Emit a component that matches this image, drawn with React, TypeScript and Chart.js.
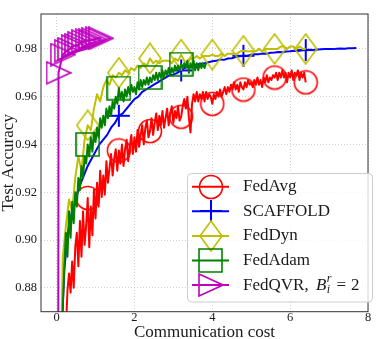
import React, { useEffect, useRef } from 'react';
import { Chart, registerables } from 'chart.js';

Chart.register(...registerables);

// ---------------- data (test accuracy per round; cost = round * cost step) ----------------
const fedAvgStep = 0.04;
const fedAvgAcc = [
  0.100, 0.400, 0.600, 0.720, 0.790, 0.835, 0.862, 0.879, 0.886, 0.878,
  0.891, 0.880, 0.897, 0.903, 0.889, 0.908, 0.893, 0.912, 0.898, 0.906,
  0.9176, 0.897, 0.914, 0.902, 0.921, 0.909, 0.924, 0.914, 0.929, 0.918,
  0.927, 0.919, 0.933, 0.924, 0.930, 0.936, 0.927, 0.934, 0.938, 0.929,
  0.9375, 0.932, 0.940, 0.931, 0.938, 0.942, 0.933, 0.939, 0.944, 0.936,
  0.943, 0.937, 0.946, 0.939, 0.944, 0.948, 0.940, 0.947, 0.950, 0.943,
  0.9456, 0.951, 0.944, 0.949, 0.953, 0.946, 0.952, 0.948, 0.954, 0.947,
  0.951, 0.955, 0.948, 0.953, 0.956, 0.949, 0.954, 0.951, 0.956, 0.950,
  0.9516, 0.956, 0.959, 0.955, 0.960, 0.951, 0.945, 0.957, 0.961, 0.958,
  0.962, 0.958, 0.961, 0.959, 0.962, 0.958, 0.962, 0.959, 0.961, 0.960,
  0.957, 0.961, 0.959, 0.962, 0.960, 0.963, 0.960, 0.962, 0.964, 0.961,
  0.964, 0.962, 0.965, 0.963, 0.966, 0.963, 0.965, 0.962, 0.966, 0.964,
  0.963, 0.966, 0.964, 0.967, 0.965, 0.966, 0.964, 0.967, 0.965, 0.968,
  0.965, 0.967, 0.964, 0.968, 0.966, 0.969, 0.966, 0.968, 0.967, 0.969,
  0.968, 0.970, 0.967, 0.970, 0.968, 0.971, 0.968, 0.970, 0.966, 0.970,
  0.968, 0.971, 0.967, 0.970, 0.969, 0.971, 0.967, 0.970, 0.968, 0.970,
  0.966,
];

const scaffoldStep = 0.1;
const scaffoldAcc = [
  0.100, 0.850, 0.888, 0.904, 0.912, 0.918, 0.923, 0.927, 0.931, 0.934,
  0.937, 0.940, 0.942, 0.944, 0.947, 0.949, 0.952, 0.953, 0.955, 0.957,
  0.959, 0.960, 0.962, 0.963, 0.964, 0.965, 0.966, 0.967, 0.968, 0.969,
  0.9692, 0.9700, 0.9710, 0.9722, 0.9726, 0.9730, 0.9735, 0.9738, 0.9740, 0.9744,
  0.9748, 0.9750, 0.9756, 0.9754, 0.9760, 0.9761, 0.9766, 0.9769, 0.9771, 0.9770,
  0.9776, 0.9778, 0.9778, 0.9781, 0.9780, 0.9784, 0.9785, 0.9787, 0.9786, 0.9789,
  0.9790, 0.9792, 0.9791, 0.9794, 0.9795, 0.9796, 0.9795, 0.9797, 0.9798, 0.9799,
  0.9800, 0.9799, 0.9801, 0.9802, 0.9801, 0.9803, 0.9803, 0.9804,
];

const fedDynStep = 0.08;
const fedDynAcc = [
  0.100, 0.820, 0.893, 0.906, 0.917, 0.912, 0.926, 0.935, 0.929, 0.942,
  0.948, 0.946, 0.955, 0.961, 0.958, 0.964, 0.967, 0.965, 0.969, 0.968,
  0.970, 0.969, 0.971, 0.970, 0.972, 0.971, 0.973, 0.972, 0.974, 0.973,
  0.976, 0.974, 0.975, 0.974, 0.975, 0.975, 0.975, 0.974, 0.976, 0.975,
  0.9776, 0.975, 0.974, 0.976, 0.976, 0.977, 0.976, 0.977, 0.977, 0.977,
  0.9776, 0.977, 0.977, 0.978, 0.977, 0.978, 0.978, 0.978, 0.978, 0.979,
  0.9792, 0.979, 0.979, 0.979, 0.979, 0.980, 0.979, 0.980, 0.980, 0.980,
  0.980, 0.980, 0.981, 0.981, 0.980, 0.981, 0.981, 0.980, 0.981, 0.980,
  0.980,
];

const fedAdamStep = 0.04;
const fedAdamAcc = [
  0.100, 0.500, 0.700, 0.820, 0.872, 0.889, 0.903, 0.893, 0.912, 0.901,
  0.916, 0.907, 0.920, 0.914, 0.926, 0.921, 0.931, 0.926, 0.935, 0.932,
  0.940, 0.935, 0.943, 0.937, 0.945, 0.941, 0.947, 0.943, 0.951, 0.947,
  0.952, 0.948, 0.955, 0.951, 0.956, 0.952, 0.958, 0.955, 0.960, 0.957,
  0.9636, 0.959, 0.962, 0.958, 0.963, 0.960, 0.964, 0.961, 0.965, 0.962,
  0.964, 0.961, 0.966, 0.963, 0.967, 0.964, 0.967, 0.965, 0.968, 0.965,
  0.968, 0.966, 0.969, 0.967, 0.970, 0.967, 0.970, 0.968, 0.971, 0.968,
  0.971, 0.969, 0.972, 0.969, 0.972, 0.970, 0.973, 0.971, 0.973, 0.971,
  0.9736, 0.972, 0.974, 0.972, 0.975, 0.970, 0.974, 0.972, 0.975, 0.971,
  0.974, 0.971, 0.974, 0.972, 0.974, 0.972, 0.974,
];

const fedQvrCost = [0, 0.05, 0.16, 0.26, 0.35, 0.44, 0.53, 0.61, 0.70, 0.80, 0.89, 0.97, 1.06, 1.14];
const fedQvrAcc = [0.10, 0.970, 0.9776, 0.9792, 0.980, 0.9812, 0.9816, 0.9824, 0.9832, 0.9836, 0.9836, 0.984, 0.9844, 0.9844];

const xTicks = [0, 2, 4, 6, 8];
const yTicks = [0.88, 0.9, 0.92, 0.94, 0.96, 0.98];

// ---------------- style ----------------
const SERIF = '"Liberation Serif", "Times New Roman", serif';
const INK = '#1a1a1a';
const RED = '#ff0000';
const BLUE = '#0000ff';
const OLIVE = '#bfbf00';
const GREEN = '#008000';
const MAGENTA = '#bf00bf';

type MarkerKind = 'circle' | 'plus' | 'diamond' | 'square' | 'triangle';

function makeMarker(kind: MarkerKind, color: string): HTMLCanvasElement {
  const c = document.createElement('canvas');
  let w = 26;
  let h = 26;
  if (kind === 'diamond') { w = 24; h = 32; }
  if (kind === 'square') { w = 25; h = 25; }
  if (kind === 'plus') { w = 24; h = 24; }
  if (kind === 'triangle') { w = 26; h = 24; }
  c.width = w;
  c.height = h;
  const g = c.getContext('2d')!;
  g.strokeStyle = color;
  g.lineWidth = 1.6;
  g.lineJoin = 'miter';
  g.beginPath();
  if (kind === 'circle') {
    g.arc(w / 2, h / 2, 11.5, 0, Math.PI * 2);
  } else if (kind === 'plus') {
    g.lineWidth = 2;
    g.moveTo(1, h / 2); g.lineTo(w - 1, h / 2);
    g.moveTo(w / 2, 1); g.lineTo(w / 2, h - 1);
  } else if (kind === 'diamond') {
    g.moveTo(w / 2, 1); g.lineTo(w - 1, h / 2); g.lineTo(w / 2, h - 1); g.lineTo(1, h / 2); g.closePath();
  } else if (kind === 'square') {
    g.rect(1, 1, w - 2, h - 2);
  } else {
    g.moveTo(1, 1); g.lineTo(w - 1, h / 2); g.lineTo(1, h - 1); g.closePath();
  }
  g.stroke();
  return c;
}

export default function App() {
  const ref = useRef<HTMLCanvasElement>(null);

  useEffect(() => {
    const canvas = ref.current;
    if (!canvas) return;

    const series = [
      { label: 'FedAvg', color: RED, marker: makeMarker('circle', RED), every: 20,
        pts: fedAvgAcc.map((y, i) => ({ x: i * fedAvgStep, y })) },
      { label: 'SCAFFOLD', color: BLUE, marker: makeMarker('plus', BLUE), every: 16,
        pts: scaffoldAcc.map((y, i) => ({ x: i * scaffoldStep, y })) },
      { label: 'FedDyn', color: OLIVE, marker: makeMarker('diamond', OLIVE), every: 10,
        pts: fedDynAcc.map((y, i) => ({ x: i * fedDynStep, y })) },
      { label: 'FedAdam', color: GREEN, marker: makeMarker('square', GREEN), every: 20,
        pts: fedAdamAcc.map((y, i) => ({ x: i * fedAdamStep, y })) },
      { label: 'FedQVR,', color: MAGENTA, marker: makeMarker('triangle', MAGENTA), every: 1,
        pts: fedQvrAcc.map((y, i) => ({ x: fedQvrCost[i], y })) },
    ];

    const datasets = series.slice().reverse().map((s) => ({
      label: s.label,
      data: s.pts,
      borderColor: s.color,
      backgroundColor: s.color,
      borderWidth: 2,
      borderJoinStyle: 'round' as const,
      tension: 0,
      fill: false,
      pointStyle: s.marker,
      pointRadius: (c: any) => (c.dataIndex % s.every === 0 ? 12 : 0),
      pointHoverRadius: 0,
      pointHitRadius: 0,
    }));

    const framePlugin = {
      id: 'frame',
      afterDatasetsDraw(chart: any) {
        const { ctx, chartArea: a } = chart;
        ctx.save();
        ctx.strokeStyle = '#333333';
        ctx.lineWidth = 1;
        ctx.strokeRect(a.left, a.top, a.right - a.left, a.bottom - a.top);
        ctx.restore();
      },
    };

    const legendPlugin = {
      id: 'mplLegend',
      afterDraw(chart: any) {
        const ctx: CanvasRenderingContext2D = chart.ctx;
        ctx.save();
        ctx.beginPath();
        (ctx as any).roundRect(187.5, 173.5, 185, 128.5, 4);
        ctx.fillStyle = 'rgba(255,255,255,0.8)';
        ctx.fill();
        ctx.strokeStyle = '#cccccc';
        ctx.lineWidth = 1;
        ctx.stroke();
        series.forEach((s, i) => {
          const y = 186.7 + i * 24.6;
          ctx.strokeStyle = s.color;
          ctx.lineWidth = 2;
          ctx.beginPath();
          ctx.moveTo(192, y);
          ctx.lineTo(229, y);
          ctx.stroke();
          ctx.drawImage(s.marker, Math.round(210.5 - s.marker.width / 2), Math.round(y - s.marker.height / 2));
          ctx.fillStyle = INK;
          ctx.font = `17px ${SERIF}`;
          ctx.textBaseline = 'middle';
          ctx.textAlign = 'left';
          ctx.fillText(s.label, 243, y);
          if (i === series.length - 1) {
            let x = 243 + ctx.measureText(s.label + ' ').width + 3;
            ctx.font = `italic 17px ${SERIF}`;
            ctx.fillText('B', x, y);
            x += ctx.measureText('B').width + 0.5;
            ctx.font = `italic 12px ${SERIF}`;
            ctx.fillText('r', x, y - 6);
            ctx.fillText('i', x, y + 5);
            x += ctx.measureText('r').width + 5;
            ctx.font = `17px ${SERIF}`;
            ctx.fillText('=', x, y);
            x += ctx.measureText('=').width + 5;
            ctx.fillText('2', x, y);
          }
        });
        ctx.restore();
      },
    };

    const gridCommon = {
      color: '#c4c4c4',
      lineWidth: 0.8,
      drawTicks: false,
    };

    const chart = new Chart(canvas, {
      type: 'line',
      data: { datasets: datasets as any },
      options: {
        responsive: false,
        animation: false,
        devicePixelRatio: 1,
        events: [],
        layout: { padding: { left: 0, right: 2.4, top: 0.5, bottom: 0 } },
        plugins: { legend: { display: false }, tooltip: { enabled: false } },
        scales: {
          x: {
            type: 'linear',
            min: -0.4,
            max: 8,
            afterBuildTicks: (s: any) => { s.ticks = xTicks.map((v) => ({ value: v })); },
            afterFit: (s: any) => { s.height = 27.3; s.paddingLeft = 0; s.paddingRight = 0; },
            ticks: {
              color: INK,
              font: { family: SERIF, size: 12.5, lineHeight: 1 },
              padding: 0,
              maxRotation: 0,
              autoSkip: false,
              callback: (v: any) => String(v),
            },
            grid: gridCommon,
            border: { display: false, dash: [1, 2] },
            title: {
              display: true,
              text: 'Communication cost',
              color: INK,
              font: { family: SERIF, size: 17, lineHeight: 0.75 },
              padding: 0,
            },
          },
          y: {
            type: 'linear',
            min: 0.87,
            max: 0.9946,
            afterBuildTicks: (s: any) => { s.ticks = yTicks.map((v) => ({ value: v })); },
            afterFit: (s: any) => { s.width = 41; s.paddingTop = 0; s.paddingBottom = 0; },
            ticks: {
              color: INK,
              font: { family: SERIF, size: 12.5, lineHeight: 1 },
              padding: 4,
              callback: (v: any) => Number(v).toFixed(2),
            },
            grid: gridCommon,
            border: { display: false, dash: [1, 2] },
            title: {
              display: true,
              text: 'Test Accuracy',
              color: INK,
              font: { family: SERIF, size: 17, lineHeight: 1 },
              padding: 0,
            },
          },
        },
      },
      plugins: [framePlugin, legendPlugin],
    });

    return () => chart.destroy();
  }, []);

  return (
    <div style={{ position: 'absolute', left: 0, top: 0, width: 382, height: 339, background: '#ffffff' }}>
      <canvas ref={ref} width={382} height={339} style={{ display: 'block', width: 382, height: 339 }} />
    </div>
  );
}
